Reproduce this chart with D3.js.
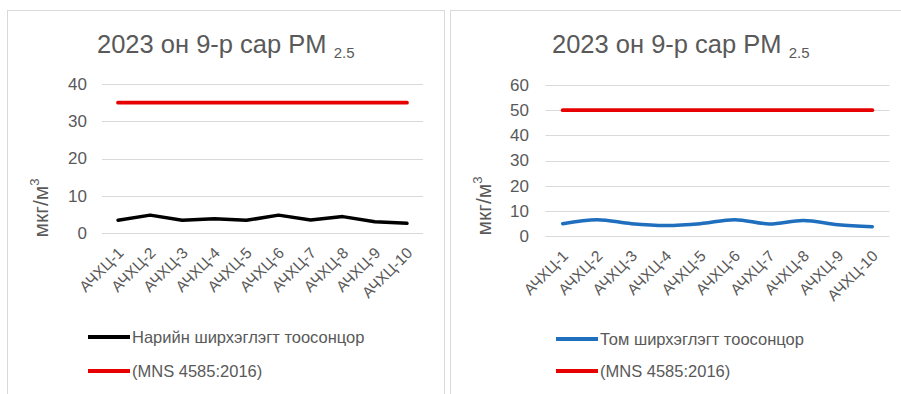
<!DOCTYPE html>
<html>
<head>
<meta charset="utf-8">
<script src="https://cdn.jsdelivr.net/npm/d3@7"></script>
<style>
  html, body { margin: 0; padding: 0; background: #fff; }
  svg text { font-family: "Liberation Sans", Arial, sans-serif; fill: #595959; }
</style>
</head>
<body>
<svg id="chart" width="901" height="394"></svg>
<script>
// Monitoring stations
const stations = ["АЧХЦ-1", "АЧХЦ-2", "АЧХЦ-3", "АЧХЦ-4", "АЧХЦ-5", "АЧХЦ-6", "АЧХЦ-7", "АЧХЦ-8", "АЧХЦ-9", "АЧХЦ-10"];

// PM2.5 fine particulate, мкг/м3
const fineValues = [3.4, 4.8, 3.4, 3.8, 3.4, 4.8, 3.5, 4.4, 3.0, 2.6];
const fineLimit = 35;
const fineTicks = [0, 10, 20, 30, 40];

// Coarse particulate, мкг/м3
const coarseValues = [4.9, 6.5, 4.9, 4.2, 4.9, 6.5, 4.8, 6.2, 4.5, 3.7];
const coarseLimit = 50;
const coarseTicks = [0, 10, 20, 30, 40, 50, 60];

const titleMain = "2023 он 9-р сар PM";
const titleSub = "2.5";
const limitLabel = "(MNS 4585:2016)";

const svg = d3.select("#chart");

const panels = [
  {
    box: [7, 10, 437, 400],
    xRange: [102, 423], yRange: [233, 84], yMax: 40, ticks: fineTicks,
    values: fineValues, limit: fineLimit, color: "#000000", curve: d3.curveLinear,
    seriesLabel: "Нарийн ширхэглэгт тоосонцор",
    titleX: 97, titleY: 53, axisTitle: [48, 208], tickRight: 87,
    legendX: 88, legendY: [337, 371]
  },
  {
    box: [450, 10, 460, 400],
    xRange: [545.5, 889.5], yRange: [236, 85], yMax: 60, ticks: coarseTicks,
    values: coarseValues, limit: coarseLimit, color: "#1f6fbe", curve: d3.curveCatmullRom.alpha(0.5),
    seriesLabel: "Том ширхэглэгт тоосонцор",
    titleX: 552, titleY: 53, axisTitle: [491, 206], tickRight: 529,
    legendX: 556, legendY: [339, 371]
  }
];

panels.forEach(p => {
  const g = svg.append("g");

  // panel frame
  g.append("rect")
    .attr("x", p.box[0] + 0.5).attr("y", p.box[1] + 0.5)
    .attr("width", p.box[2]).attr("height", p.box[3])
    .attr("fill", "#fff").attr("stroke", "#d9d9d9").attr("stroke-width", 1);

  const x = d3.scalePoint().domain(stations).range(p.xRange).padding(0.5);
  const y = d3.scaleLinear().domain([0, p.yMax]).range(p.yRange);

  // title with subscript
  const t = g.append("text")
    .attr("x", p.titleX).attr("y", p.titleY)
    .attr("font-size", 25.5).style("fill", "#595959");
  t.append("tspan").text(titleMain + " ");
  t.append("tspan").attr("font-size", 15).attr("dy", 5).text(titleSub);

  // gridlines
  g.append("g").selectAll("line").data(p.ticks).join("line")
    .attr("x1", p.xRange[0]).attr("x2", p.xRange[1])
    .attr("y1", d => Math.round(y(d)) + 0.5).attr("y2", d => Math.round(y(d)) + 0.5)
    .attr("stroke", "#d9d9d9").attr("stroke-width", 1);

  // y axis labels
  const yAxis = d3.axisLeft(y).tickValues(p.ticks).tickSize(0).tickPadding(0);
  const ya = g.append("g").attr("transform", `translate(${p.tickRight},0)`).call(yAxis);
  ya.select(".domain").remove();
  ya.selectAll("text").attr("font-size", 17).style("fill", "#595959")
    .attr("font-family", "'Liberation Sans', Arial, sans-serif");

  // x axis labels, rotated
  const xAxis = d3.axisBottom(x).tickSize(0).tickPadding(0);
  const xa = g.append("g").attr("transform", `translate(0,${p.yRange[0]})`).call(xAxis);
  xa.select(".domain").remove();
  xa.selectAll("text")
    .attr("font-size", 15.5).style("fill", "#595959")
    .attr("font-family", "'Liberation Sans', Arial, sans-serif")
    .attr("text-anchor", "end")
    .attr("dy", 0)
    .attr("transform", "translate(6,21) rotate(-45)");

  // y axis title
  const at = g.append("text")
    .attr("transform", `translate(${p.axisTitle[0]},${p.axisTitle[1]}) rotate(-90)`)
    .attr("text-anchor", "middle").attr("font-size", 21).style("fill", "#595959");
  at.append("tspan").text("мкг/м");
  at.append("tspan").attr("font-size", 13).attr("dy", -9).text("3");

  // limit line
  g.append("line")
    .attr("x1", x(stations[0])).attr("x2", x(stations[stations.length - 1]))
    .attr("y1", y(p.limit)).attr("y2", y(p.limit))
    .attr("stroke", "#e60000").attr("stroke-width", 3.8).attr("stroke-linecap", "round");

  // measured series
  const line = d3.line().x((d, i) => x(stations[i])).y(d => y(d)).curve(p.curve);
  g.append("path").datum(p.values)
    .attr("d", line).attr("fill", "none")
    .attr("stroke", p.color).attr("stroke-width", 3.5)
    .attr("stroke-linejoin", "round").attr("stroke-linecap", "round");

  // legend
  const legend = [
    { label: p.seriesLabel, color: p.color },
    { label: limitLabel, color: "#e60000" }
  ];
  legend.forEach((l, i) => {
    const ly = p.legendY[i];
    g.append("line")
      .attr("x1", p.legendX).attr("x2", p.legendX + 42)
      .attr("y1", ly).attr("y2", ly)
      .attr("stroke", l.color).attr("stroke-width", 4);
    g.append("text")
      .attr("x", p.legendX + 44).attr("y", ly + 6)
      .attr("font-size", 16.5).style("fill", "#595959")
      .text(l.label);
  });
});
</script>
</body>
</html>
